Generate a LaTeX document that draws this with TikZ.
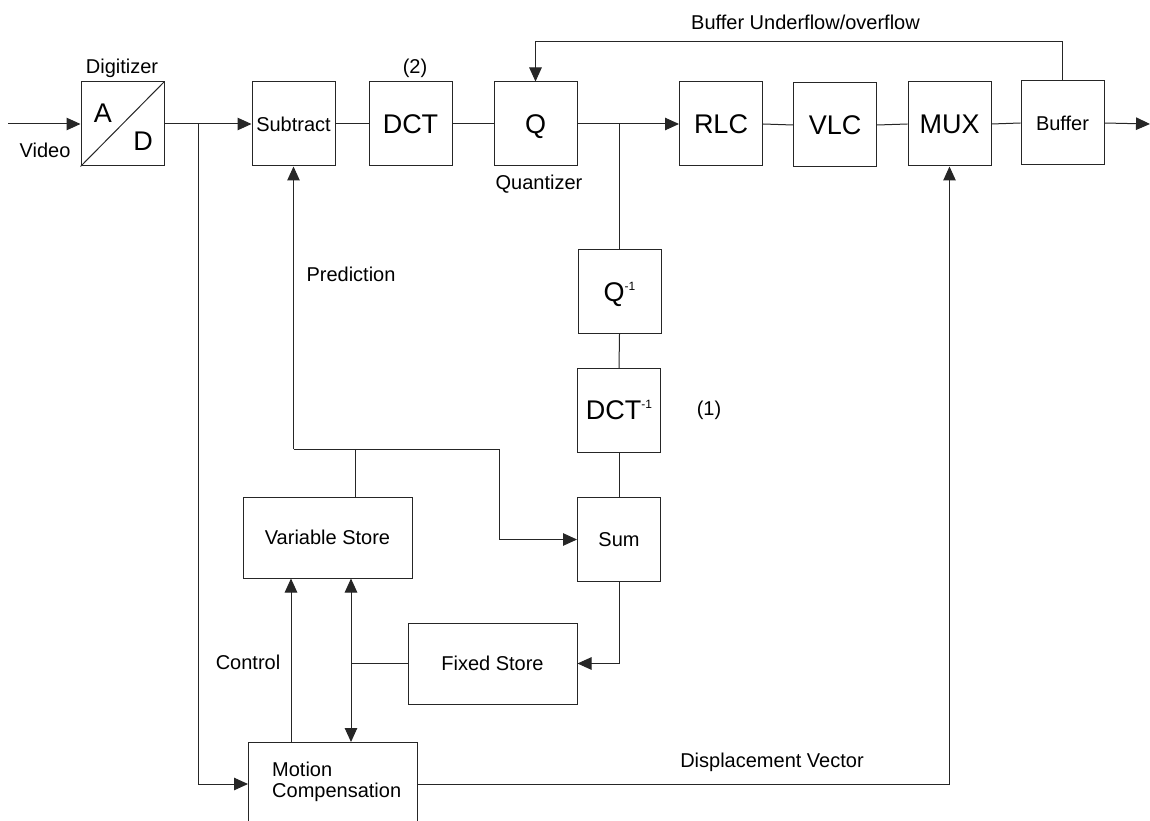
\documentclass[tikz,border=0pt]{standalone}
\usepackage{fontspec}
\setmainfont{Liberation Sans}
\usetikzlibrary{arrows.meta}
\newcommand{\invsup}{\raisebox{11pt}{\fontsize{12}{12}\selectfont -1}}
\begin{document}
\begin{tikzpicture}[x=1pt,y=-1pt,
  box/.style={draw=black!85, line width=1pt, inner sep=0pt, minimum width=83pt, minimum height=84pt, font=\fontsize{27}{30}\selectfont},
  sbox/.style={box, font=\fontsize{20}{24}\selectfont},
  wbox/.style={sbox, minimum width=169pt, minimum height=81pt},
  lbl/.style={font=\fontsize{20}{24}\selectfont, inner sep=0pt},
  big/.style={font=\fontsize{27}{30}\selectfont, inner sep=0pt},
  conn/.style={line width=1pt, draw=black!85},
  arr/.style={conn, -{Triangle[length=14pt,width=12.5pt]}},
  darr/.style={conn, {Triangle[length=14pt,width=12.5pt]}-{Triangle[length=14pt,width=12.5pt]}}
]
\useasboundingbox (0,0) rectangle (1150,821);

% top row
\node[box] (AD) at (122.5,124) {};
\draw[conn] (AD.south west) -- (AD.north east);
\node[big] (A) at (103,113) {A};
\node[big] (D) at (143,141) {D};
\node[sbox] (Sub) at (293.5,124) {Subtract};
\node[box] (DCT) at (410.5,124) {DCT};
\node[box, text depth=0pt] (Q) at (535.5,124) {Q};
\node[box] (RLC) at (721,124) {RLC};
\node[box] (VLC) at (835,125) {VLC};
\node[box] (MUX) at (949.5,124) {MUX};
\node[sbox] (Buf) at (1062.5,123) {Buffer};

% inverse path
\node[box, text depth=0pt] (Qinv) at (619.5,291.5) {Q\invsup};
\node[box] (DCTinv) at (619,410.5) {DCT\invsup};
\node[sbox] (Sum) at (619,539.5) {Sum};

% stores
\node[wbox] (VS) at (327.5,537.5) {Variable Store};
\node[wbox] (FS) at (492.5,663.5) {Fixed Store};
\node[wbox, minimum height=84pt] (MC) at (333,784) {};
\node[lbl, anchor=west, align=left, font=\fontsize{20}{21.5}\selectfont] (MCt) at (272,782) {Motion\\Compensation};

% labels
\node[lbl] (digit) at (122,68) {Digitizer};
\node[lbl] (video) at (45,150) {Video};
\node[lbl] (two) at (415,68) {(2)};
\node[lbl] (quant) at (539,184) {Quantizer};
\node[lbl] (bufuo) at (805.5,22) {Buffer Underflow/overflow};
\node[lbl] (pred) at (351,274) {Prediction};
\node[lbl] (one) at (709,410) {(1)};
\node[lbl] (ctrl) at (248,662) {Control};
\node[lbl] (disp) at (772,762) {Displacement Vector};

% coordinates
\coordinate (vin) at (8,124);
\coordinate (vout) at (1150,124);
\coordinate (j1) at (198,124);
\coordinate (j2) at (619.5,124);
\coordinate (fb) at (1062.5,42);
\coordinate (p1) at (293.5,449);
\coordinate (p2) at (355,449);
\coordinate (p3) at (499,449);
\coordinate (c1) at (291,742);
\coordinate (c2) at (351,742);

% connectors
\draw[arr] (vin) -- (AD.west);
\draw[arr] (AD.east) -- (Sub.west);
\draw[arr] (j1) |- (MC.west);
\draw[conn] (Sub.east) -- (DCT.west);
\draw[conn] (DCT.east) -- (Q.west);
\draw[arr] (Q.east) -- (RLC.west);
\draw[conn] (RLC.east) -- (VLC.west);
\draw[conn] (VLC.east) -- (MUX.west);
\draw[conn] (MUX.east) -- (Buf.west);
\draw[arr] (Buf.east) -- (vout);
\draw[arr] (Buf.north) -- (fb) -| (Q.north);
\draw[conn] (j2) -- (Qinv.north);
\draw[conn] (Qinv.south) -- (DCTinv.north);
\draw[conn] (DCTinv.south) -- (Sum.north);
\draw[arr] (p1) -- (Sub.south);
\draw[arr] (p1) -- (p3) |- (Sum.west);
\draw[conn] (p2) -- (p2 |- VS.north);
\draw[arr] (c1) -- (c1 |- VS.south);
\draw[darr] (c2) -- (c2 |- VS.south);
\draw[conn] (FS.west) -- (FS.west -| c2);
\draw[arr] (Sum.south) |- (FS.east);
\draw[arr] (MC.east) -| (MUX.south);
\end{tikzpicture}
\end{document}
